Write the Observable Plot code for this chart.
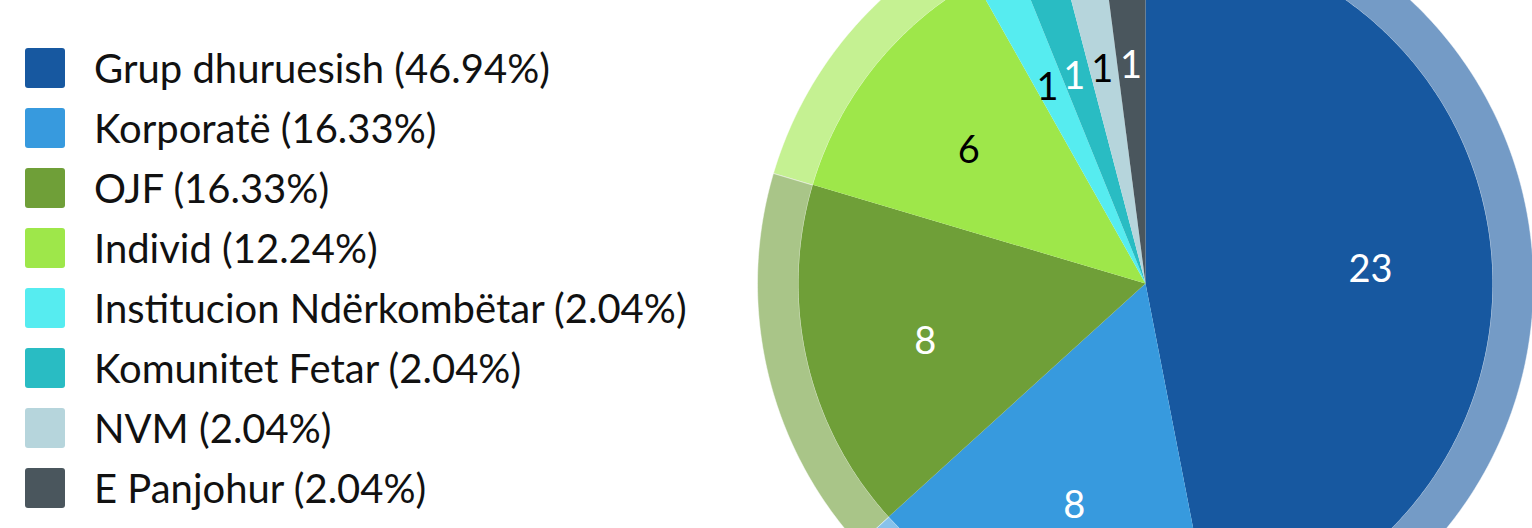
<!DOCTYPE html>
<html>
<head>
<meta charset="utf-8">
<script src="https://cdn.jsdelivr.net/npm/d3@7"></script>
<script src="https://cdn.jsdelivr.net/npm/@observablehq/plot@0.6"></script>
<style>
  html, body { margin: 0; padding: 0; background: #fff; }
  #wrap { position: relative; width: 1532px; height: 528px; overflow: hidden; font-family: Lato, sans-serif; }
  #chart { position: absolute; left: 0; top: 0; }
  #legend { position: absolute; left: 0; top: 0; }
  .row { position: absolute; left: 25px; height: 40px; display: flex; align-items: center; white-space: nowrap; }
  .sw { width: 40px; height: 40px; border-radius: 3px; flex: none; }
  .lbl { margin-left: 29px; font-size: 40px; color: #111; line-height: 40px; }
</style>
</head>
<body>
<div id="wrap">
  <div id="chart"></div>
  <div id="legend"></div>
</div>
<script>
const categories = ["Grup dhuruesish", "Korporatë", "OJF", "Individ", "Institucion Ndërkombëtar", "Komunitet Fetar", "NVM", "E Panjohur"];
const counts = [23, 8, 8, 6, 1, 1, 1, 1];
const colors = ["#1758a0", "#379ade", "#6f9f38", "#9ee74a", "#56ecf0", "#29bcc3", "#b6d5dc", "#4a565d"];
const labelColors = ["white", "white", "white", "black", "black", "white", "black", "white"];

const W = 1532, H = 528;
const CX = 1145, CY = 283;      // pie centre in pixels (layout)
const R_IN = 347, R_OUT = 388, R_LABEL = 226;

const total = d3.sum(counts);
const data = categories.map((c, i) => ({category: c, value: counts[i], labelColor: labelColors[i]}));
const arcs = d3.pie().sort(null).value(d => d.value)(data);

const pt = (r, a) => ({x: r * Math.sin(a), y: r * Math.cos(a)});
const steps = a => Math.max(4, Math.ceil((a) / 0.01));

const inner = [], ring = [], labels = [];
arcs.forEach(a => {
  const n = steps(a.endAngle - a.startAngle);
  inner.push({...pt(0, 0), category: a.data.category});
  for (let k = 0; k <= n; k++) {
    const t = a.startAngle + (a.endAngle - a.startAngle) * k / n;
    inner.push({...pt(R_IN, t), category: a.data.category});
  }
  for (let k = 0; k <= n; k++) {
    const t = a.startAngle + (a.endAngle - a.startAngle) * k / n;
    ring.push({...pt(R_OUT, t), category: a.data.category});
  }
  for (let k = n; k >= 0; k--) {
    const t = a.startAngle + (a.endAngle - a.startAngle) * k / n;
    ring.push({...pt(R_IN, t), category: a.data.category});
  }
  const mid = (a.startAngle + a.endAngle) / 2;
  labels.push({...pt(R_LABEL, mid), text: String(a.data.value), color: a.data.labelColor});
});

const chart = Plot.plot({
  width: W, height: H,
  margin: 0,
  x: {domain: [-CX, W - CX], axis: null},
  y: {domain: [CY - H, CY], axis: null},
  color: {domain: categories, range: colors},
  style: {background: "transparent", fontFamily: "Lato, sans-serif"},
  marks: [
    Plot.line(ring, {x: "x", y: "y", z: "category", fill: "category", fillOpacity: 0.6, stroke: "white", strokeWidth: 0.8, strokeOpacity: 0.6, curve: "linear-closed"}),
    Plot.line(inner, {x: "x", y: "y", z: "category", fill: "category", stroke: "none", curve: "linear-closed"}),
    Plot.text(labels, {x: "x", y: "y", text: "text", fill: "color", fontSize: 38, dy: 8})
  ]
});
document.getElementById("chart").appendChild(chart);

const legend = document.getElementById("legend");
categories.forEach((c, i) => {
  const row = document.createElement("div");
  row.className = "row";
  row.style.top = (48 + i * 60) + "px";
  const sw = document.createElement("div");
  sw.className = "sw";
  sw.style.background = colors[i];
  const lbl = document.createElement("div");
  lbl.className = "lbl";
  lbl.textContent = `${c} (${(counts[i] / total * 100).toFixed(2)}%)`;
  row.appendChild(sw);
  row.appendChild(lbl);
  legend.appendChild(row);
});
</script>
</body>
</html>
